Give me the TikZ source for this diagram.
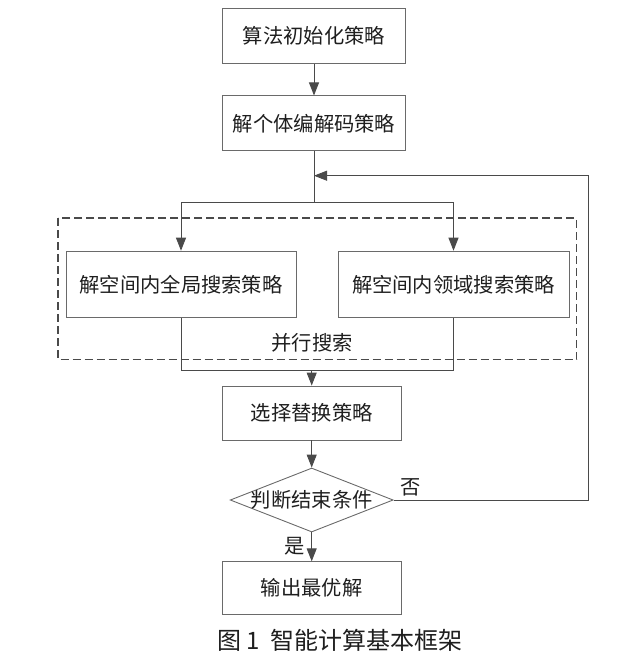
\documentclass[tikz,border=0pt]{standalone}
\usepackage{fontspec}
\setmainfont{Noto Sans CJK SC}
\usetikzlibrary{arrows.meta,shapes.geometric}
\definecolor{lnc}{HTML}{4A4A4A}
\definecolor{bdc}{HTML}{6A6A6A}
\definecolor{txc}{HTML}{1E1E1E}
\tikzset{
  box/.style={draw=bdc, line width=0.9pt, inner sep=0pt, text=txc, font=\fontsize{20.3pt}{23pt}\selectfont},
  conn/.style={draw=lnc, line width=0.9pt},
  arr/.style={conn, -{Triangle[length=13pt,width=10pt]}},
  lbl/.style={text=txc, font=\fontsize{20.3pt}{23pt}\selectfont, inner sep=0pt},
}
\begin{document}
\begin{tikzpicture}[x=1pt,y=-1pt]
\useasboundingbox (0,0) rectangle (636,670);
% dashed frame
\draw[draw=lnc, line width=1.5pt, dash pattern=on 8pt off 4pt] (58,218) rectangle (576.5,359.5);
\node[lbl] (par) at (312,343) {并行搜索};
% nodes
\node[box, minimum width=182.5pt, minimum height=55pt] (b1) at (314,35.8) {算法初始化策略};
\node[box, minimum width=182.5pt, minimum height=55pt] (b2) at (314,123.4) {解个体编解码策略};
\node[box, minimum width=230pt, minimum height=66.5pt] (gl) at (181,284.4) {解空间内全局搜索策略};
\node[box, minimum width=231pt, minimum height=66.5pt] (nb) at (453.5,284.4) {解空间内领域搜索策略};
\node[box, minimum width=179pt, minimum height=54pt] (b3) at (311.7,413) {选择替换策略};
\node[box, diamond, minimum width=163pt, minimum height=64pt] (dm) at (311.7,500) {\makebox[0pt]{判断结束条件}};
\node[box, minimum width=179pt, minimum height=52.5pt] (b4) at (311.7,588) {输出最优解};
% coordinates
\coordinate (split) at (314,202.3);
\coordinate (sl) at (181,202.3);
\coordinate (sr) at (453.5,202.3);
\coordinate (ml) at (181,370);
\coordinate (mr) at (453.5,370);
\coordinate (mm) at (311.7,370);
\coordinate (fb) at (314,175.7);
\coordinate (fr) at (588,175.7);
\coordinate (fd) at (588,500);
% connectors
\draw[arr] (b1) -- (b2);
\draw[conn] (b2.south) -- (split);
\draw[conn] (sl) -- (sr);
\draw[arr] (sl) -- (gl.north);
\draw[arr] (sr) -- (nb.north);
\draw[conn] (gl.south) -- (ml) -- (mr) -- (nb.south);
\draw[arr] (mm) -- (b3.north);
\draw[arr] (b3) -- (dm);
\draw[arr] (dm.south) -- (b4.north);
\draw[arr] (dm.east) -- (fd) -- (fr) -- (fb);
% labels
\node[lbl] (no) at (411,487) {否};
\node[lbl] (yes) at (295,546.5) {是};
\node[lbl, font=\fontsize{24pt}{27pt}\selectfont] (cap) at (340,640) {图 1\ \ 智能计算基本框架};
\end{tikzpicture}
\end{document}
